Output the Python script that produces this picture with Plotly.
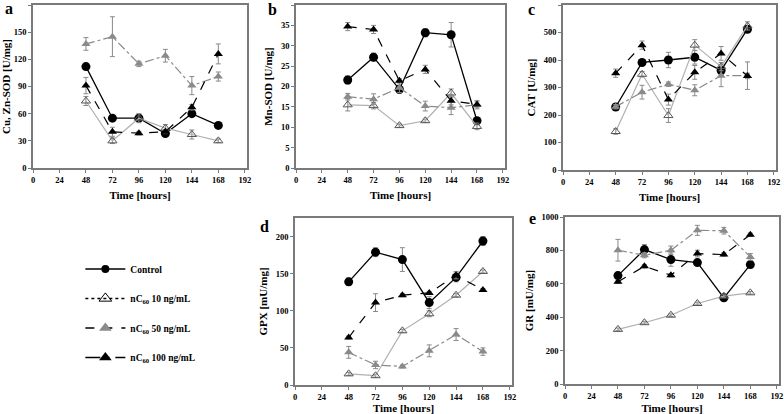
import plotly.graph_objects as go

# ---------------- data ----------------
hours = [48, 72, 96, 120, 144, 168]
x_ticks = [0, 24, 48, 72, 96, 120, 144, 168, 192]
series_names = ["Control", "nC<sub>60</sub> 10 ng/mL", "nC<sub>60</sub> 50 ng/mL", "nC<sub>60</sub> 100 ng/mL"]

# a: Cu, Zn-SOD [U/mg]
cuzn_control = [112, 55, 55, 38, 60, 47]
cuzn_control_err = [3, 3, 3, 3, 3, 2]
cuzn_10 = [74, 30, 55, 44, 37, 30]
cuzn_10_err = [5, 3, 5, 4, 5, 2]
cuzn_50 = [137, 145, 115, 124, 91, 101]
cuzn_50_err = [7, 22, 3, 7, 10, 5]
cuzn_100 = [91, 40, 38.5, 40, 67, 126]
cuzn_100_err = [9, 5, 2, 2, 3, 11]

# b: Mn-SOD [U/mg]
mn_control = [21.6, 27.2, 19.3, 33.2, 32.7, 11.6]
mn_control_err = [1, 1, 1, 1, 3, 0.8]
mn_10 = [15.5, 15.3, 10.4, 11.6, 18.4, 10.2]
mn_10_err = [1.5, 0.8, 0.4, 0.4, 1, 0.8]
mn_50 = [17.5, 16.9, 19.7, 15.2, 14.8, 15.5]
mn_50_err = [0.8, 1.3, 1.2, 1.2, 1.7, 1]
mn_100 = [34.7, 34.0, 21.4, 24.2, 16.5, 15.6]
mn_100_err = [1, 1, 0.5, 1, 1, 0.8]

# c: CAT [U/mg]
cat_control = [229, 391, 400, 410, 362, 512]
cat_control_err = [8, 10, 28, 25, 15, 10]
cat_10 = [140, 348, 198, 454, 376, 524]
cat_10_err = [10, 10, 25, 20, 15, 15]
cat_50 = [230, 283, 312, 290, 343, 343]
cat_50_err = [8, 25, 8, 20, 40, 50]
cat_100 = [352, 454, 256, 355, 424, 342]
cat_100_err = [15, 15, 20, 25, 25, 10]

# d: GPX [mU/mg]
gpx_control = [139, 179, 169, 111, 145, 194]
gpx_control_err = [5, 6, 16, 8, 6, 6]
gpx_10 = [15, 12.5, 73, 96, 121, 153]
gpx_10_err = [2, 2, 2, 4, 2, 2]
gpx_50 = [44, 27, 25, 46, 68, 45]
gpx_50_err = [8, 5, 2, 8, 8, 5]
gpx_100 = [64, 111, 121, 124, 148, 128]
gpx_100_err = [2, 12, 2, 2, 5, 2]

# e: GR [mU/mg]
gr_control = [649, 805, 745, 727, 516, 715]
gr_control_err = [20, 30, 40, 10, 20, 20]
gr_10 = [327, 367, 412, 482, 526, 546]
gr_10_err = [8, 8, 8, 8, 8, 8]
gr_50 = [801, 771, 801, 920, 918, 761]
gr_50_err = [65, 15, 25, 30, 20, 20]
gr_100 = [612, 705, 651, 781, 775, 894]
gr_100_err = [10, 10, 10, 20, 10, 10]

panel_letters = ["a", "b", "c", "d", "e"]
y_titles = ["Cu, Zn-SOD [U/mg]", "Mn-SOD [U/mg]", "CAT [U/mg]", "GPX [mU/mg]", "GR [mU/mg]"]
y_ranges = [[0, 180], [0, 40], [0, 600], [0, 225], [0, 1000]]
y_ticks = [list(range(0, 181, 30)), list(range(0, 41, 5)), list(range(0, 601, 100)),
           list(range(0, 201, 50)), list(range(0, 1001, 200))]

panel_values = [
    [cuzn_control, cuzn_10, cuzn_50, cuzn_100],
    [mn_control, mn_10, mn_50, mn_100],
    [cat_control, cat_10, cat_50, cat_100],
    [gpx_control, gpx_10, gpx_50, gpx_100],
    [gr_control, gr_10, gr_50, gr_100],
]
panel_errors = [
    [cuzn_control_err, cuzn_10_err, cuzn_50_err, cuzn_100_err],
    [mn_control_err, mn_10_err, mn_50_err, mn_100_err],
    [cat_control_err, cat_10_err, cat_50_err, cat_100_err],
    [gpx_control_err, gpx_10_err, gpx_50_err, gpx_100_err],
    [gr_control_err, gr_10_err, gr_50_err, gr_100_err],
]

# ---------------- styles ----------------
W, H = 784, 414
FONT = "Liberation Serif"
# plot boxes in pixels (left, right, top, bottom)
boxes = [(33, 247, 5, 168), (296, 505, 5, 168), (563, 776, 5, 170),
         (295, 512, 218, 385), (565, 779, 217, 384)]
# panel-letter positions in pixels (left, vertical middle)
letter_pos = [(3, 9), (266, 10), (526, 10), (258, 226), (527, 218)]

plot_styles = [
    dict(line=dict(color="black", width=1.3, dash="solid"),
         marker=dict(symbol="circle", size=9, color="black")),
    dict(line=dict(color="#b0b0b0", width=1.2, dash="solid"),
         marker=dict(symbol="triangle-up-open", size=8, color="#555555", line=dict(width=1))),
    dict(line=dict(color="#8a8a8a", width=1.2, dash="dashdot"),
         marker=dict(symbol="triangle-up", size=8, color="#8a8a8a")),
    dict(line=dict(color="black", width=1.2, dash="dash"),
         marker=dict(symbol="triangle-up", size=8, color="black")),
]
legend_styles = [
    dict(line=dict(color="black", width=1.5, dash="solid"),
         marker=dict(symbol="circle", size=8, color="black")),
    dict(line=dict(color="black", width=1.5, dash="dot"),
         marker=dict(symbol="triangle-up-open", size=11, color="black", line=dict(width=1))),
    dict(line=dict(color="black", width=1.5, dash="dash"),
         marker=dict(symbol="triangle-up", size=11, color="#8a8a8a")),
    dict(line=dict(color="black", width=1.5, dash="longdashdot"),
         marker=dict(symbol="triangle-up", size=11, color="black")),
]

fig = go.Figure()

for p in range(5):
    suffix = "" if p == 0 else str(p + 1)
    for s in range(4):
        st = plot_styles[s]
        fig.add_trace(go.Scatter(
            x=hours, y=panel_values[p][s], mode="lines+markers",
            line=st["line"], marker=st["marker"],
            error_y=dict(type="data", array=panel_errors[p][s], color="#8a8a8a",
                         thickness=1, width=2.5),
            xaxis="x" + suffix, yaxis="y" + suffix, showlegend=False,
        ))

# legend-only entries
for s in range(4):
    st = legend_styles[s]
    fig.add_trace(go.Scatter(
        x=[None], y=[None], mode="lines+markers", name=series_names[s],
        line=st["line"], marker=st["marker"], legendgroup="g%d" % s,
        showlegend=True, xaxis="x", yaxis="y",
    ))

tickfont = dict(family=FONT, size=8.5, color="black", weight="bold")
titlefont = dict(family=FONT, size=11, color="black", weight="bold")

layout = dict(
    width=W, height=H, margin=dict(l=0, r=0, t=0, b=0, autoexpand=False),
    paper_bgcolor="white", plot_bgcolor="white",
    font=dict(family=FONT, color="black"),
    legend=dict(x=0.1025, y=0.3855, xanchor="left", yanchor="top",
                font=dict(family=FONT, size=9.5, color="black", weight="bold"),
                tracegroupgap=10.5, itemwidth=40, bgcolor="rgba(0,0,0,0)"),
    annotations=[],
)

for p in range(5):
    suffix = "" if p == 0 else str(p + 1)
    l, r, t, b = boxes[p]
    xa = dict(domain=[l / W, r / W], range=[0, 194], tickvals=x_ticks,
              showline=True, mirror=True, linecolor="#7a7a7a", linewidth=1.5,
              ticks="outside", ticklen=3, tickcolor="#7a7a7a", showgrid=False, zeroline=False,
              tickfont=tickfont, anchor="y" + suffix, automargin=False,
              title=dict(text="Time [hours]", font=titlefont, standoff=7))
    ya = dict(domain=[1 - b / H, 1 - t / H], range=y_ranges[p], tickvals=y_ticks[p],
              showline=True, mirror=True, linecolor="#7a7a7a", linewidth=1.5,
              ticks="outside", ticklen=3, tickcolor="#7a7a7a", showgrid=False, zeroline=False,
              tickfont=tickfont, anchor="x" + suffix, automargin=False,
              title=dict(text=y_titles[p], font=titlefont, standoff=6))
    layout["xaxis" + suffix] = xa
    layout["yaxis" + suffix] = ya
    lx, ly = letter_pos[p]
    layout["annotations"].append(dict(
        text="<b>%s</b>" % panel_letters[p], xref="paper", yref="paper",
        x=lx / W, y=1 - ly / H, xanchor="left", yanchor="middle",
        showarrow=False, font=dict(family=FONT, size=16, color="black")))

fig.update_layout(**layout)
fig.write_html("out.html", config={"displayModeBar": False},
               post_script="document.body.style.margin='0px';document.body.style.overflow='hidden';")
